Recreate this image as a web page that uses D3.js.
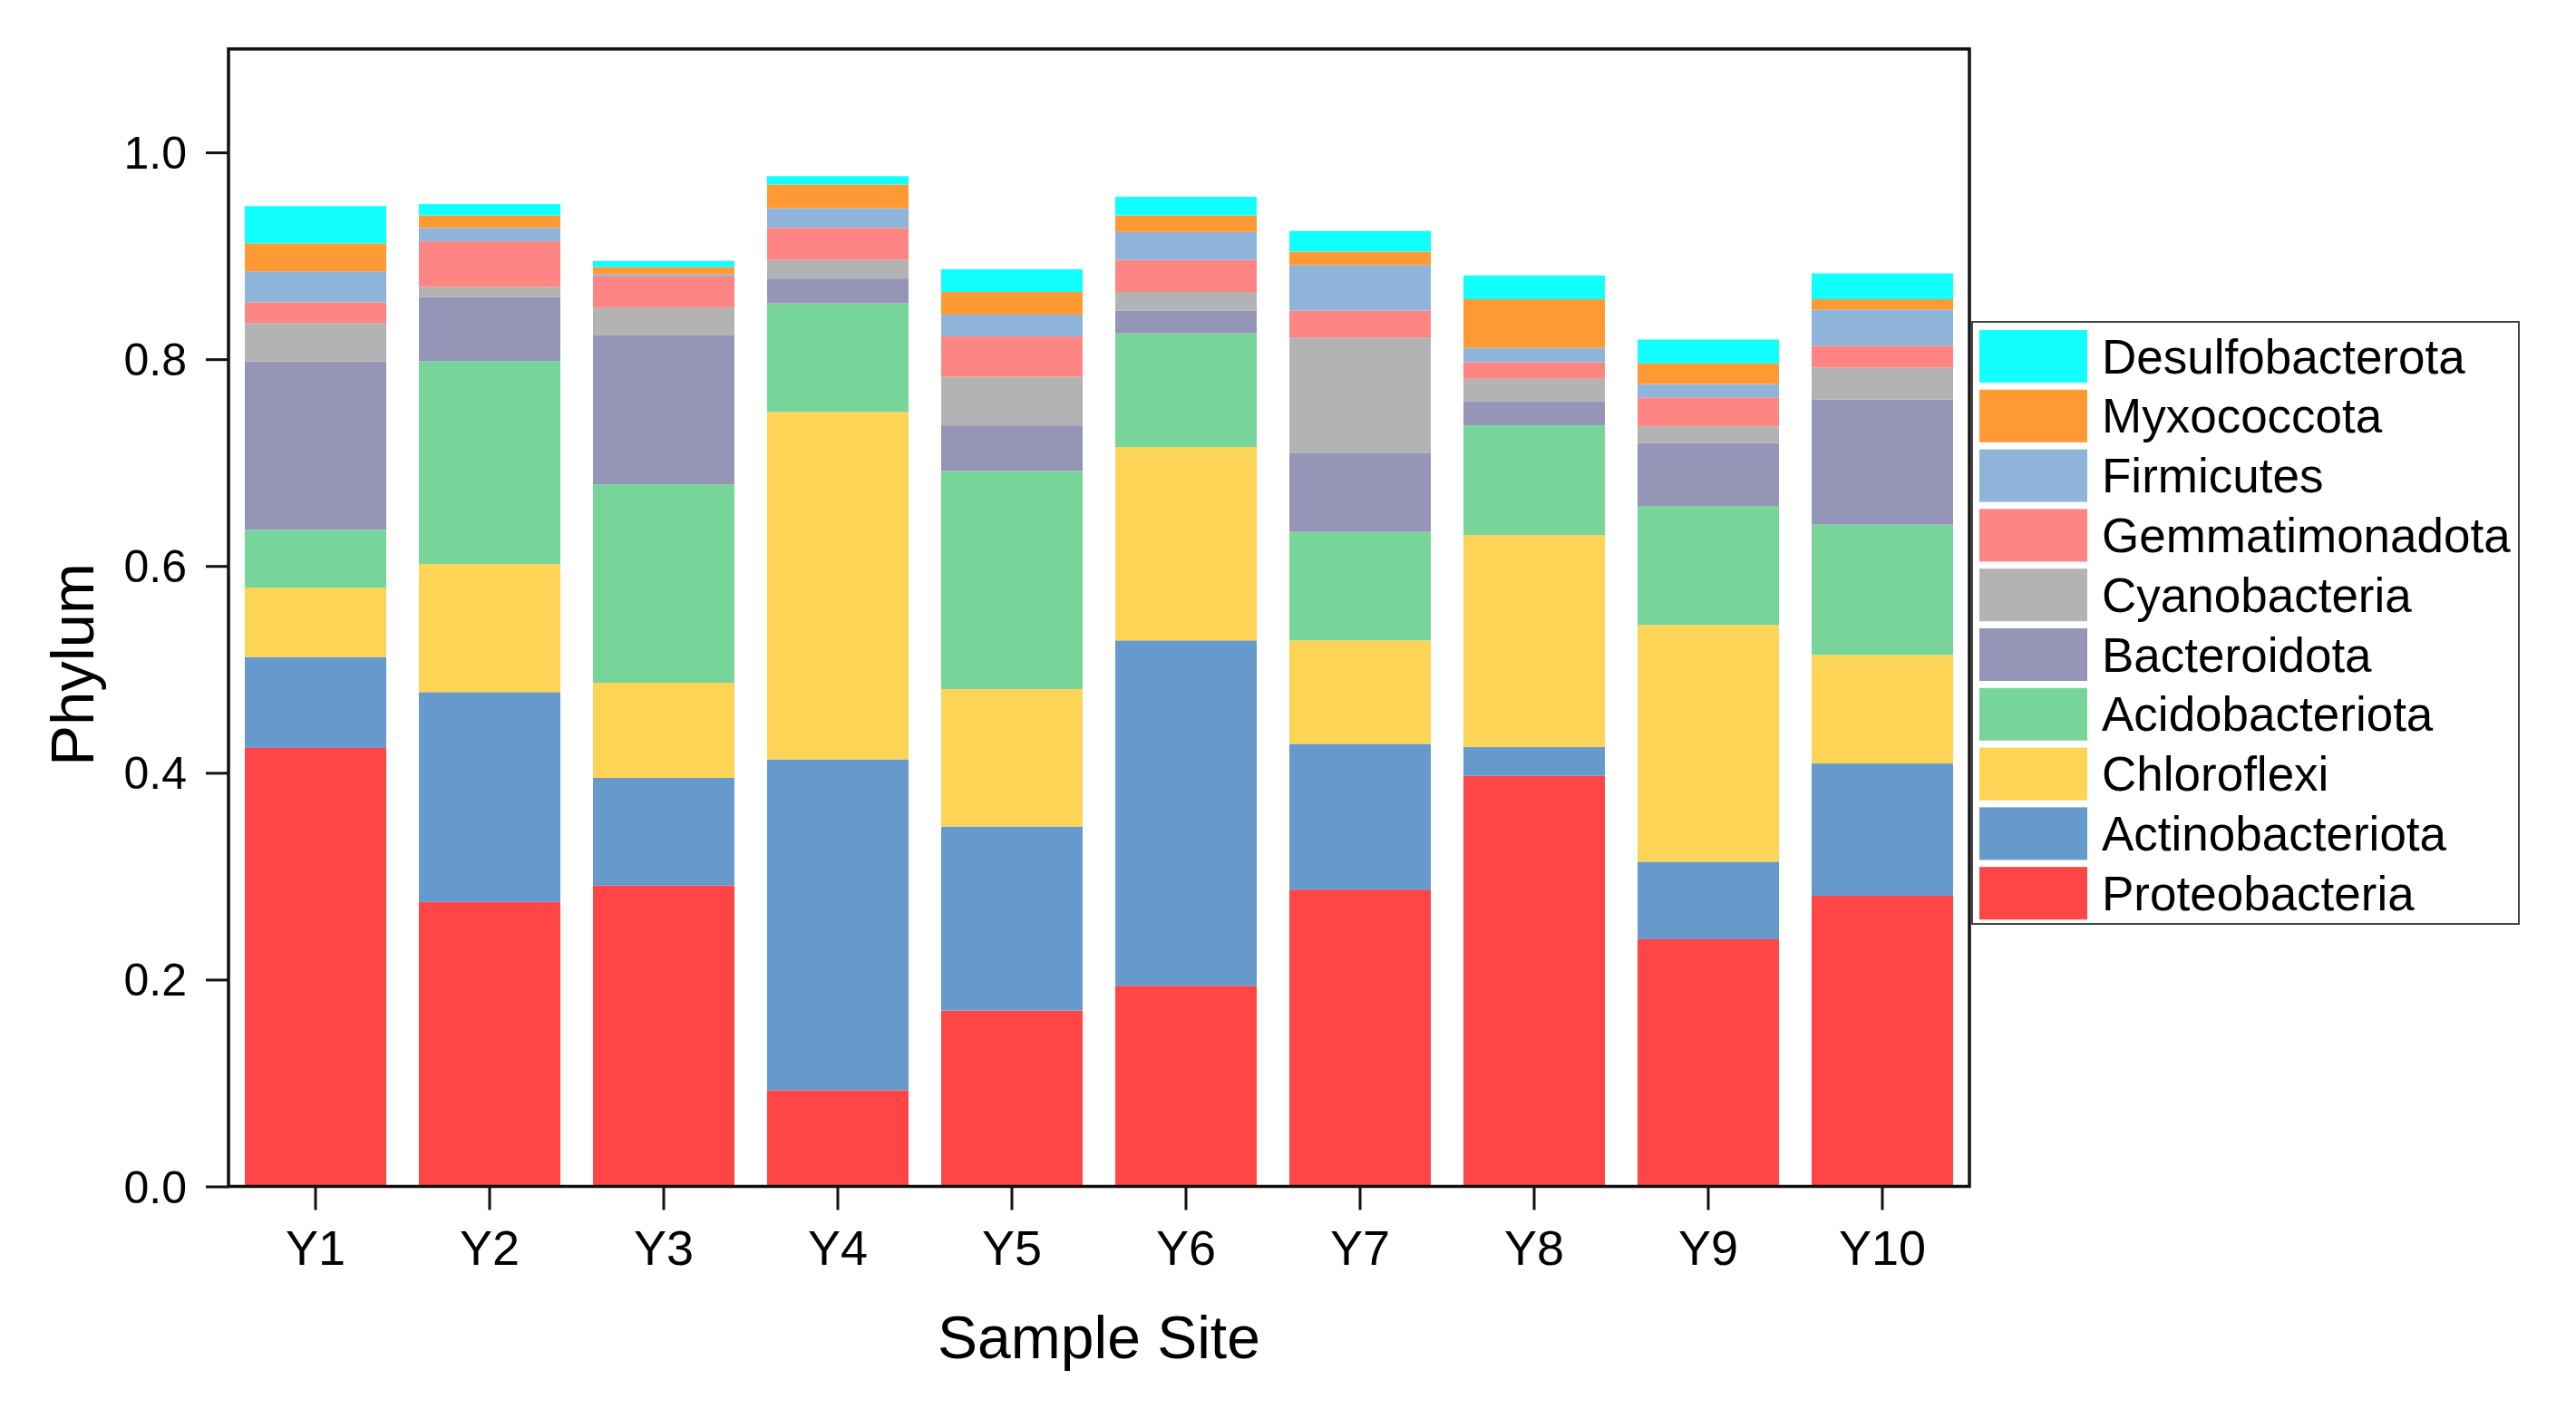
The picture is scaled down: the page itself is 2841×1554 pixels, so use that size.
<!DOCTYPE html>
<html>
<head>
<meta charset="utf-8">
<script src="https://cdn.jsdelivr.net/npm/d3@7"></script>
<style>
  html, body { margin: 0; padding: 0; background: #ffffff; }
  svg { display: block; }
</style>
</head>
<body>
<svg id="chart" width="2841" height="1554"></svg>
<script>
// ---- Data ----
const sites = ["Y1", "Y2", "Y3", "Y4", "Y5", "Y6", "Y7", "Y8", "Y9", "Y10"];
// stacking order bottom -> top
const phyla = ["Proteobacteria", "Actinobacteriota", "Chloroflexi", "Acidobacteriota", "Bacteroidota",
               "Cyanobacteria", "Gemmatimonadota", "Firmicutes", "Myxococcota", "Desulfobacterota"];
const Proteobacteria   = [0.424, 0.275, 0.291, 0.093, 0.170, 0.194, 0.287, 0.397, 0.239, 0.281];
const Actinobacteriota = [0.088, 0.203, 0.104, 0.320, 0.178, 0.334, 0.141, 0.028, 0.075, 0.128];
const Chloroflexi      = [0.067, 0.124, 0.092, 0.336, 0.133, 0.187, 0.100, 0.205, 0.229, 0.105];
const Acidobacteriota  = [0.056, 0.196, 0.192, 0.105, 0.211, 0.110, 0.105, 0.106, 0.115, 0.126];
const Bacteroidota     = [0.163, 0.062, 0.144, 0.024, 0.044, 0.022, 0.076, 0.023, 0.061, 0.121];
const Cyanobacteria    = [0.037, 0.010, 0.027, 0.018, 0.047, 0.018, 0.112, 0.022, 0.016, 0.031];
const Gemmatimonadota  = [0.020, 0.044, 0.030, 0.031, 0.039, 0.031, 0.026, 0.016, 0.028, 0.021];
const Firmicutes       = [0.030, 0.013, 0.002, 0.019, 0.021, 0.027, 0.044, 0.014, 0.013, 0.035];
const Myxococcota      = [0.027, 0.012, 0.007, 0.023, 0.022, 0.016, 0.013, 0.047, 0.020, 0.010];
const Desulfobacterota = [0.036, 0.011, 0.006, 0.008, 0.022, 0.018, 0.020, 0.023, 0.023, 0.025];
const yTicks = [0.0, 0.2, 0.4, 0.6, 0.8, 1.0];
const colors = ["#FF4545", "#6699CC", "#FED456", "#77D59A", "#9595B8",
                "#B3B3B3", "#FF8585", "#8FB4DA", "#FF9933", "#12FFFF"];
const xTitle = "Sample Site";
const yTitle = "Phylum";

const seriesValues = {Proteobacteria, Actinobacteriota, Chloroflexi, Acidobacteriota, Bacteroidota,
                      Cyanobacteria, Gemmatimonadota, Firmicutes, Myxococcota, Desulfobacterota};

// ---- Layout ----
const FONT = "'Liberation Sans', Arial, Helvetica, sans-serif";
const plot = {left: 252, right: 2172, top: 54, bottom: 1308.5};

const svg = d3.select("#chart");
svg.append("rect").attr("width", 2841).attr("height", 1554).attr("fill", "#fff");

const x = d3.scaleBand().domain(sites).range([plot.left, plot.right])
  .paddingInner(0.1875).paddingOuter(0.09375);
const y = d3.scaleLinear().domain([0, 1.1]).range([plot.bottom, plot.top]);
const color = d3.scaleOrdinal().domain(phyla).range(colors);

const table = sites.map((s, i) => {
  const row = {site: s};
  phyla.forEach(p => row[p] = seriesValues[p][i]);
  return row;
});
const stacked = d3.stack().keys(phyla)(table);

const g = svg.append("g");
g.selectAll("g.layer").data(stacked).join("g")
  .attr("class", "layer")
  .attr("fill", d => color(d.key))
  .selectAll("rect").data(d => d).join("rect")
  .attr("x", d => x(d.data.site))
  .attr("width", x.bandwidth())
  .attr("y", d => y(d[1]))
  .attr("height", d => y(d[0]) - y(d[1]));

// frame
svg.append("rect")
  .attr("x", plot.left).attr("y", plot.top)
  .attr("width", plot.right - plot.left).attr("height", plot.bottom - plot.top)
  .attr("fill", "none").attr("stroke", "#111").attr("stroke-width", 3.5);

// y axis
const yAxis = svg.append("g").attr("transform", `translate(${plot.left},0)`)
  .call(d3.axisLeft(y).tickValues(yTicks).tickFormat(d3.format(".1f")).tickSize(25).tickPadding(21));
yAxis.select(".domain").remove();
yAxis.selectAll(".tick line").attr("stroke", "#111").attr("stroke-width", 3);
yAxis.selectAll(".tick text").attr("font-family", FONT).attr("font-size", 50).attr("fill", "#000")
  .attr("dy", "0.35em");

// x axis
const xAxis = svg.append("g").attr("transform", `translate(0,${plot.bottom})`)
  .call(d3.axisBottom(x).tickSize(26).tickPadding(22));
xAxis.select(".domain").remove();
xAxis.selectAll(".tick line").attr("stroke", "#111").attr("stroke-width", 3);
xAxis.selectAll(".tick text").attr("font-family", FONT).attr("font-size", 54).attr("fill", "#000");

// titles
svg.append("text")
  .attr("x", (plot.left + plot.right) / 2).attr("y", 1498)
  .attr("text-anchor", "middle").attr("font-family", FONT).attr("font-size", 66).attr("fill", "#000")
  .text(xTitle);
svg.append("text")
  .attr("transform", "translate(103,733) rotate(-90)")
  .attr("text-anchor", "middle").attr("font-family", FONT).attr("font-size", 67).attr("fill", "#000")
  .text(yTitle);

// legend
const legendOrder = phyla.slice().reverse();
const lg = {left: 2175, top: 355, width: 603, height: 664};
svg.append("rect").attr("x", lg.left).attr("y", lg.top).attr("width", lg.width).attr("height", lg.height)
  .attr("fill", "#fff").attr("stroke", "#444").attr("stroke-width", 2);
const items = svg.append("g").selectAll("g").data(legendOrder).join("g")
  .attr("transform", (d, i) => `translate(2183,${364 + i * 65.8})`);
items.append("rect").attr("width", 119).attr("height", 58).attr("fill", d => color(d));
items.append("text").attr("x", 135).attr("y", 29).attr("dy", "0.35em")
  .attr("font-family", FONT).attr("font-size", 53).attr("fill", "#000")
  .text(d => d);
</script>
</body>
</html>
